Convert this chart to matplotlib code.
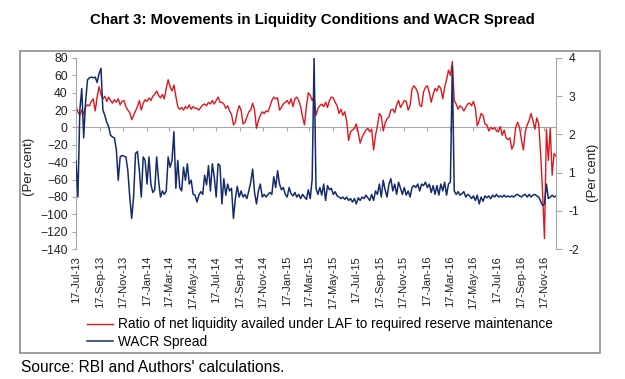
import matplotlib
matplotlib.use("Agg")
import matplotlib.pyplot as plt
import matplotlib.dates as mdates
from matplotlib.patches import Rectangle
import pandas as pd

plt.rcParams['font.family'] = ['Liberation Sans', 'DejaVu Sans']

# ratio of net LAF liquidity to required reserves (per cent), one reading every 5 days
laf_ratio = [
    25, 18, 14, 20, 15, 24, 26, 25, 30, 33, 19, 35, 47, 38, 33, 36, 30, 35, 31, 28,
    32, 29, 33, 26, 30, 31, 24, 20, 17, 9, 14, 19, 24, 31, 20, 28, 32, 30, 34, 31,
    36, 38, 42, 37, 34, 38, 33, 45, 55, 47, 42, 49, 36, 24, 21, 23, 20, 24, 22, 26,
    21, 24, 22,
    22, 20, 23, 26, 27, 25, 29, 27, 31, 27, 31, 35, 29, 29, 27, 22, 25, 19, 15, 3,
    6, 18, 25, 20, 4, 6, 12, 18, 20, 28, 20, -1, 8, 14, 18, 16, 19, 18, 24, 31,
    35, 33, 34, 20, 23, 27, 29, 31, 27, 33, 24, 33, 35, 31, 24, 12, 3, 24, 40, 37,
    31, 36,
    14, 22, 25, 27, 24, 29, 23, 31, 35, 34, 29, 25, 16, 21, 14, 18, 7, -15, -5, -3,
    -1, 4, -6, -18, -11, -7, -3, -1, -5, -2, -26, -9, 2, 16, 13, -4, 5, 10, 12, 20,
    21, 17, 26, 31, 23, 27, 31, 30, 20, 25, 44, 48, 45, 40, 26, 24, 41, 46, 48, 40,
    29, 38,
    45, 42, 48, 45, 33, 46, 55, 66, 60, 76, 31, 27, 21, 25, 23, 19, 23, 27, 28, 25,
    30, 22, 2, 8, 16, 14, 4, 3, -4, 0, -2, 0, -4, -5, 1, -9, -3, -12, -14, -12,
    -25, -20, 0, 6, 0, -14, -26, -5, 3, 8, 16, 8, -2, 11, 4, -30, -75, -128, -2, -38,
    -1, -55, -30, -33,
]

# WACR spread, read against the right axis tick positions
wacr_spread = [
    1.32, 0.36, 2.64, 3.20, 1.91, 2.86, 3.43, 3.48, 3.50, 3.48, 3.50, 3.36, 3.59, 3.73, 2.64, 2.50, 2.32, 2.20, 1.98, 1.93,
    1.91, 1.61, 0.80, 1.41, 1.45, 1.43, 1.41, 1.05, 0.36, -0.20, 0.36, 1.50, 1.55, 1.05, 0.36, 1.41, 1.32, 0.70, 1.41, 0.70,
    0.48, 0.55, 1.41, 0.80, 0.36, 0.52, 0.43, 0.52, 1.41, 1.14, 1.32, 2.07, 0.59, 1.32, 0.61, 0.52, 1.14, 0.80, 1.23, 0.70,
    0.80, 0.43, 0.41,
    0.23, 0.41, 0.50, 0.43, 0.93, 0.68, 1.18, 0.52, 1.23, 0.89, 0.36, 1.23, 1.18, 0.18, 0.84, 0.41, 0.70, 0.52, 0.59, -0.20,
    0.32, 0.64, 0.36, 0.52, 0.36, 0.43, 0.32, 0.52, 0.75, 1.09, 0.48, 0.18, 0.52, 0.70, 0.36, 0.43, 0.36, 0.43, 0.48, 0.43,
    0.89, 0.61, 1.05, 0.70, 0.55, 0.61, 0.43, 0.36, 0.61, 0.45, 0.39, 0.48, 0.36, 0.43, 0.32, 0.43, 0.36, 0.30, 0.55, 0.32,
    0.82, 4.00,
    0.59, 0.43, 0.61, 0.41, 0.70, 0.27, 0.66, 0.55, 0.59, 0.43, 0.50, 0.39, 0.36, 0.32, 0.36, 0.30, 0.36, 0.27, 0.32, 0.23,
    0.32, 0.18, 0.34, 0.27, 0.36, 0.32, 0.41, 0.34, 0.27, 0.43, 0.27, 0.52, 0.43, 0.70, 0.36, 0.80, 0.55, 0.36, 0.70, 0.84,
    0.52, 0.70, 0.43, 0.75, 0.59, 0.43, 0.61, 0.41, 0.52, 0.36, 0.61, 0.66, 0.61, 0.70, 0.52, 0.70, 0.66, 0.75, 0.61, 0.70,
    0.48, 0.66,
    0.43, 0.66, 0.41, 0.70, 0.52, 0.75, 0.41, 0.70, 0.75, 3.77, 0.52, 0.43, 0.50, 0.41, 0.45, 0.50, 0.36, 0.43, 0.39, 0.32,
    0.39, 0.27, 0.41, 0.18, 0.36, 0.25, 0.39, 0.34, 0.39, 0.32, 0.41, 0.36, 0.43, 0.36, 0.39, 0.36, 0.41, 0.36, 0.39, 0.36,
    0.39, 0.36, 0.41, 0.43, 0.39, 0.36, 0.41, 0.43, 0.36, 0.43, 0.36, 0.41, 0.43, 0.39, 0.36, 0.25, 0.14, 0.18, 0.70, 0.32,
    0.36, 0.41, 0.36, 0.39,
]

dates = pd.date_range('2013-07-17', periods=len(laf_ratio), freq='5D')
tick_dates = pd.date_range('2013-07-01', periods=21, freq='2MS') + pd.Timedelta(days=16)

left_ticks = list(range(-140, 81, 20))
right_ticks = [-1, 0, 1, 2, 3, 4]
right_labels = ['-2', '-1', '1', '2', '3', '4']

RED = '#e0161e'
NAVY = '#142c6e'
GREY = '#a6a6a6'

fig = plt.figure(figsize=(6.25, 3.79), dpi=100)
ax = fig.add_axes([76 / 625, 130 / 379, 480 / 625, 191 / 379])
ax2 = ax.twinx()

l1, = ax.plot(dates, laf_ratio, color=RED, lw=1.0)
l2, = ax2.plot(dates, wacr_spread, color=NAVY, lw=1.1)

ax.set_xlim(dates[0], dates[-1])
ax.set_ylim(-140, 80)
ax.set_yticks(left_ticks)
ax2.set_ylim(-1, 4)
ax2.set_yticks(right_ticks)
ax2.set_yticklabels(right_labels)

ax.set_xticks(tick_dates)
ax.xaxis.set_major_formatter(mdates.DateFormatter('%d-%b-%y'))
ax.tick_params(axis='x', length=0, pad=5, labelsize=8, rotation=90, colors='#222222')
ax.tick_params(axis='y', length=3, pad=3, labelsize=8.8, color=GREY, labelcolor='#222222')
ax2.tick_params(axis='y', length=4, pad=5, labelsize=8.8, color=GREY, labelcolor='#222222')

for a in (ax, ax2):
    a.spines['top'].set_visible(False)
    a.spines['bottom'].set_visible(False)
    a.spines['left'].set_color(GREY)
    a.spines['right'].set_color(GREY)
ax.spines['right'].set_visible(False)
ax2.spines['left'].set_visible(False)

# category axis crossing at zero
zero_axis = ax.secondary_xaxis(0, transform=ax.transData)
zero_axis.set_xticks(tick_dates)
zero_axis.set_xticklabels([])
zero_axis.tick_params(axis='x', direction='out', length=3, color=GREY)
zero_axis.spines['bottom'].set_color(GREY)

ax.set_ylabel('(Per cent)', fontsize=9.5, color='#222222')
ax.yaxis.set_label_coords(-0.085, 0.43)
ax2.set_ylabel('(Per cent)', fontsize=9.5, color='#222222', rotation=90)
ax2.yaxis.set_label_coords(1.065, 0.40)

fig.text(0.5, 1 - 20 / 379, 'Chart 3: Movements in Liquidity Conditions and WACR Spread',
         ha='center', va='center', fontsize=10.8, fontweight='bold')

fig.legend([l1, l2],
           ['Ratio of net liquidity availed under LAF to required reserve maintenance',
            'WACR Spread'],
           loc='upper left', bbox_to_anchor=(82 / 625, 1 - 312 / 379),
           frameon=False, fontsize=9.8, handlelength=1.9, handletextpad=0.35,
           labelspacing=0.28, borderaxespad=0)

fig.add_artist(Rectangle((20 / 625, 26 / 379), 580 / 625, 302 / 379,
                         transform=fig.transFigure, fill=False,
                         edgecolor='#8c8c8c', lw=1.2))

fig.text(21 / 625, 1 - 367 / 379, "Source: RBI and Authors' calculations.",
         ha='left', va='center', fontsize=11.2)

fig.savefig('out.png', dpi=100)
